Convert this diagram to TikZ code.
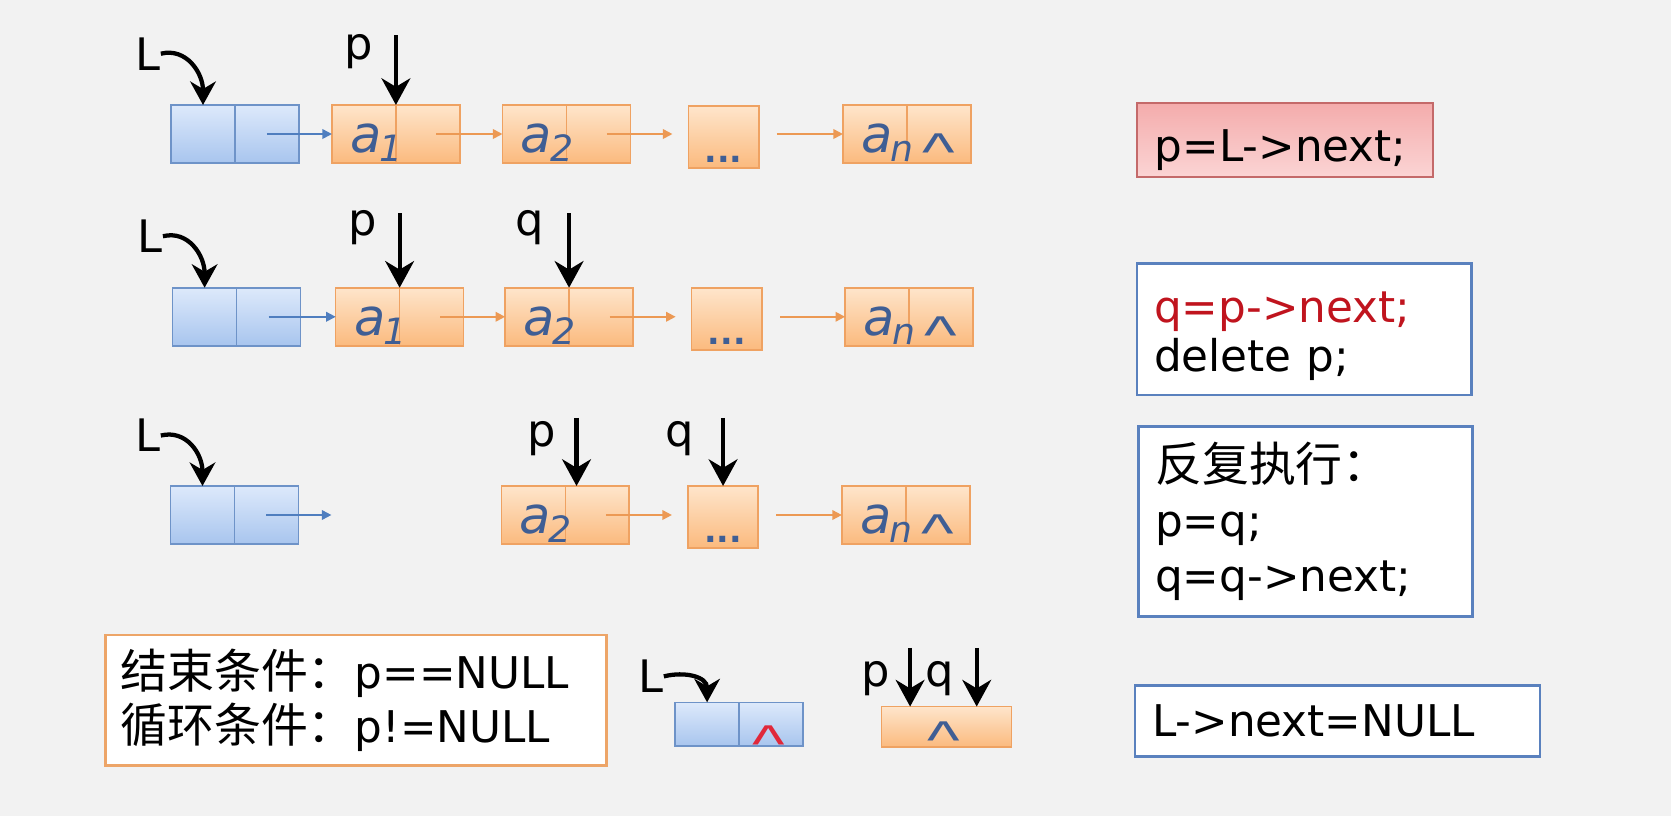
\documentclass[tikz,border=0pt]{standalone}
\usepackage{fontspec}
\usepackage{graphicx}
\setmainfont{DejaVu Sans}[ItalicFont={DejaVu Sans Oblique},BoldFont={DejaVu Sans Bold}]
\newfontfamily\cjk{Noto Sans CJK SC}
\newfontfamily\caretfont{Liberation Sans}
\usetikzlibrary{arrows.meta,calc}
\definecolor{bg}{HTML}{F2F2F2}
\definecolor{bluetop}{HTML}{DDE9FB}
\definecolor{bluebot}{HTML}{A8C5EE}
\definecolor{blueline}{HTML}{6E93C8}
\definecolor{orgtop}{HTML}{FEE5CB}
\definecolor{orgbot}{HTML}{FBBA7E}
\definecolor{orgline}{HTML}{EFA262}
\definecolor{orglink}{HTML}{EC9954}
\definecolor{bluelink}{HTML}{4F7EBF}
\definecolor{atext}{HTML}{3F5E94}
\definecolor{redtop}{HTML}{F4ACAC}
\definecolor{redbot}{HTML}{FBD4D4}
\definecolor{redline}{HTML}{C46A6A}
\definecolor{boxblue}{HTML}{5A81BE}
\definecolor{boxorange}{HTML}{EDA568}
\definecolor{codered}{HTML}{C0141E}
\definecolor{caretred}{HTML}{E0283A}
\newcommand\aval[1]{{\fontsize{48}{48}\selectfont\itshape a}\kern-2pt\raisebox{-9pt}{\fontsize{34}{34}\selectfont\itshape #1}}
\newcommand\caret{{\caretfont\fontsize{50}{50}\selectfont\scalebox{1.3}[1]{\textasciicircum}}}
\newcommand\zh[1]{{\cjk\fontsize{44}{44}\selectfont #1}}
\tikzset{
 cell/.style={draw, line width=1.5pt, minimum width=60pt, minimum height=54.5pt, inner sep=0pt, outer sep=0pt},
 bcell/.style={cell, draw=blueline, top color=bluetop, bottom color=bluebot},
 ocell/.style={cell, draw=orgline, top color=orgtop, bottom color=orgbot},
 lbl/.style={inner sep=0pt, anchor=base, font=\fontsize{42}{42}\selectfont},
 avalnode/.style={inner sep=0pt, anchor=base west, text=atext},
 dotsnode/.style={inner sep=0pt, anchor=base, text=atext, font=\fontsize{31}{31}\selectfont\bfseries},
 crt/.style={inner sep=0pt, anchor=base, text=atext},
 ptr/.style={line width=4pt, -{Stealth[length=25pt,width=27pt,inset=8pt]}},
 curv/.style={line width=4pt, -{Stealth[length=22pt,width=24pt,inset=7pt]}},
 blink/.style={draw=bluelink, line width=1.7pt, -{Triangle[length=9pt,width=9pt]}},
 olink/.style={draw=orglink, line width=1.7pt, -{Triangle[length=9pt,width=9pt]}},
 codebox/.style={draw=boxblue, line width=2.5pt, fill=white, inner xsep=16pt, inner ysep=0pt, align=left, font=\fontsize{41}{46}\selectfont, anchor=center},
}
\begin{document}
\begin{tikzpicture}[x=1pt,y=-1pt]
\fill[bg] (0,0) rectangle (1568,766);
\useasboundingbox (0,0) rectangle (1568,766);

% ---------- Row 1 ----------
\node[bcell] (h1a) at (190.5,125.75) {};
\node[bcell,anchor=west] (h1b) at (h1a.east) {};
\node[ocell] (a11a) at (341.5,125.75) {};
\node[ocell,anchor=west] (a11b) at (a11a.east) {};
\node[ocell] (a12a) at (501.5,125.75) {};
\node[ocell,anchor=west] (a12b) at (a12a.east) {};
\node[ocell,minimum width=66pt,minimum height=58pt] (d1) at (679,128.5) {};
\node[ocell] (an1a) at (821,125.75) {};
\node[ocell,anchor=west] (an1b) at (an1a.east) {};
\node[avalnode] (v11) at ($(a11a.south west)+(17,-10)$) {\aval{1}};
\node[avalnode] (v12) at ($(a12a.south west)+(17,-10)$) {\aval{2}};
\node[avalnode] (v1n) at ($(an1a.south west)+(17,-10)$) {\aval{n}};
\node[dotsnode] (t1) at ($(d1.south)+(0,-5)$) {...};
\node[crt] (c1n) at ($(an1b.center)+(0,34)$) {\caret};
\draw[blink] (h1b.center) -- (a11a.west);
\draw[olink,shorten <=8pt] (a11b.center) -- (a12a.west);
\draw[olink,shorten <=8pt,shorten >=15pt] (a12b.center) -- (a12b.center -| d1.west);
\draw[olink,shorten <=17pt] (an1a.west -| d1.east) -- (an1a.west);
\node[lbl] (L1) at (139,65.7) {L};
\node[lbl] (p1) at (337,56) {p};
\coordinate (p1s) at (371.5,33);
\draw[ptr] (p1s) -- (a11a.north east);
\draw[curv] (L1.east) .. controls ($(L1.east)+(24,-6)$) and ($(h1a.north)+(0,-30)$) .. (h1a.north);

% ---------- Row 2 ----------
\node[bcell] (h2a) at (192,297.25) {};
\node[bcell,anchor=west] (h2b) at (h2a.east) {};
\node[ocell] (a21a) at (345,297.25) {};
\node[ocell,anchor=west] (a21b) at (a21a.east) {};
\node[ocell] (a22a) at (504,297.25) {};
\node[ocell,anchor=west] (a22b) at (a22a.east) {};
\node[ocell,minimum width=66pt,minimum height=58pt] (d2) at (682,299.25) {};
\node[ocell] (an2a) at (823,297.25) {};
\node[ocell,anchor=west] (an2b) at (an2a.east) {};
\node[avalnode] (v21) at ($(a21a.south west)+(17,-10)$) {\aval{1}};
\node[avalnode] (v22) at ($(a22a.south west)+(17,-10)$) {\aval{2}};
\node[avalnode] (v2n) at ($(an2a.south west)+(17,-10)$) {\aval{n}};
\node[dotsnode] (t2) at ($(d2.south)+(0,-5)$) {...};
\node[crt] (c2n) at ($(an2b.center)+(0,34)$) {\caret};
\draw[blink] (h2b.center) -- (a21a.west);
\draw[olink,shorten <=8pt] (a21b.center) -- (a22a.west);
\draw[olink,shorten <=8pt,shorten >=15pt] (a22b.center) -- (a22b.center -| d2.west);
\draw[olink,shorten <=17pt] (an2a.west -| d2.east) -- (an2a.west);
\node[lbl] (L2) at (141,237) {L};
\node[lbl] (p2) at (340,221) {p};
\node[lbl] (q2) at (497,221) {q};
\coordinate (p2s) at (375,200);
\coordinate (q2s) at (534,200);
\draw[ptr] (p2s) -- (a21a.north east);
\draw[ptr] (q2s) -- (a22a.north east);
\draw[curv] (L2.east) .. controls ($(L2.east)+(24,-6)$) and ($(h2a.north)+(0,-30)$) .. (h2a.north);

% ---------- Row 3 ----------
\node[bcell] (h3a) at (190,483.25) {};
\node[bcell,anchor=west] (h3b) at (h3a.east) {};
\node[ocell] (a32a) at (500.5,483.25) {};
\node[ocell,anchor=west] (a32b) at (a32a.east) {};
\node[ocell,minimum width=66pt,minimum height=58pt] (d3) at (678.5,485) {};
\node[ocell] (an3a) at (820,483.25) {};
\node[ocell,anchor=west] (an3b) at (an3a.east) {};
\node[avalnode] (v32) at ($(a32a.south west)+(17,-10)$) {\aval{2}};
\node[avalnode] (v3n) at ($(an3a.south west)+(17,-10)$) {\aval{n}};
\node[dotsnode] (t3) at ($(d3.south)+(0,-5)$) {...};
\node[crt] (c3n) at ($(an3b.center)+(0,34)$) {\caret};
\coordinate (e3) at (311,483.25);
\draw[blink] (h3b.center) -- (e3);
\draw[olink,shorten <=8pt,shorten >=15pt] (a32b.center) -- (a32b.center -| d3.west);
\draw[olink,shorten <=17pt] (an3a.west -| d3.east) -- (an3a.west);
\node[lbl] (L3) at (139,424) {L};
\node[lbl] (p3) at (508.5,419) {p};
\node[lbl] (q3) at (638,419) {q};
\coordinate (p3s) at (541,392);
\coordinate (q3s) at (678.5,392);
\draw[ptr] (p3s) -- (p3s |- a32b.north);
\draw[ptr] (q3s) -- (d3.north);
\draw[curv] (L3.east) .. controls ($(L3.east)+(24,-6)$) and ($(h3a.north)+(0,-30)$) .. (h3a.north);

% ---------- Row 4 ----------
\node[bcell,minimum height=41pt] (h4a) at (663.5,679.5) {};
\node[bcell,minimum height=41pt,anchor=west] (h4b) at (h4a.east) {};
\node[crt,text=caretred] (c4h) at ($(h4b.center)+(-2,36)$) {\caret};
\node[ocell,minimum width=122pt,minimum height=38pt] (o4) at (888,682) {};
\node[crt] (c4o) at ($(o4.center)+(-2,29.5)$) {\caret};
\node[lbl] (L4) at (611,650) {L};
\node[lbl] (p4) at (821.5,644) {p};
\node[lbl] (q4) at (881.5,644) {q};
\coordinate (p4s) at (854,608);
\coordinate (q4s) at (916.5,608);
\draw[ptr] (p4s) -- (p4s |- o4.north);
\draw[ptr] (q4s) -- (q4s |- o4.north);
\draw[curv] (L4.east) .. controls ($(L4.east)+(20,-5)$) and ($(h4a.north)+(0,-24)$) .. (h4a.north);

% ---------- Code boxes ----------
\node[codebox,draw=redline,line width=2pt,top color=redtop,bottom color=redbot,
      minimum width=278.4pt,minimum height=69pt,text width=244.4pt,inner xsep=17pt,text height=40pt,text depth=0pt] (b1) at (1205.8,131.25) {p=L->next;};
\node[codebox,minimum width=314pt,minimum height=123.5pt,text width=282pt] (b2) at (1224,309)
  {\rule{0pt}{42pt}\textcolor{codered}{q=p->next;}\\delete p;};
\node[codebox,minimum width=314pt,minimum height=178.7pt,text width=282pt,font=\fontsize{41}{51.5}\selectfont] (b3) at (1225,489.4)
  {\zh{反复执行：}\\p=q;\\q=q->next;};
\node[codebox,draw=boxorange,minimum width=470pt,minimum height=122pt,text width=442pt,inner xsep=14pt,font=\fontsize{41}{51}\selectfont] (b4) at (334,657)
  {\zh{结束条件：}p==NULL\\\zh{循环条件：}p!=NULL};
\node[codebox,minimum width=380pt,minimum height=67pt,text width=348pt,text depth=0pt] (b5) at (1255,676.5) {L->next=NULL};
\end{tikzpicture}
\end{document}
